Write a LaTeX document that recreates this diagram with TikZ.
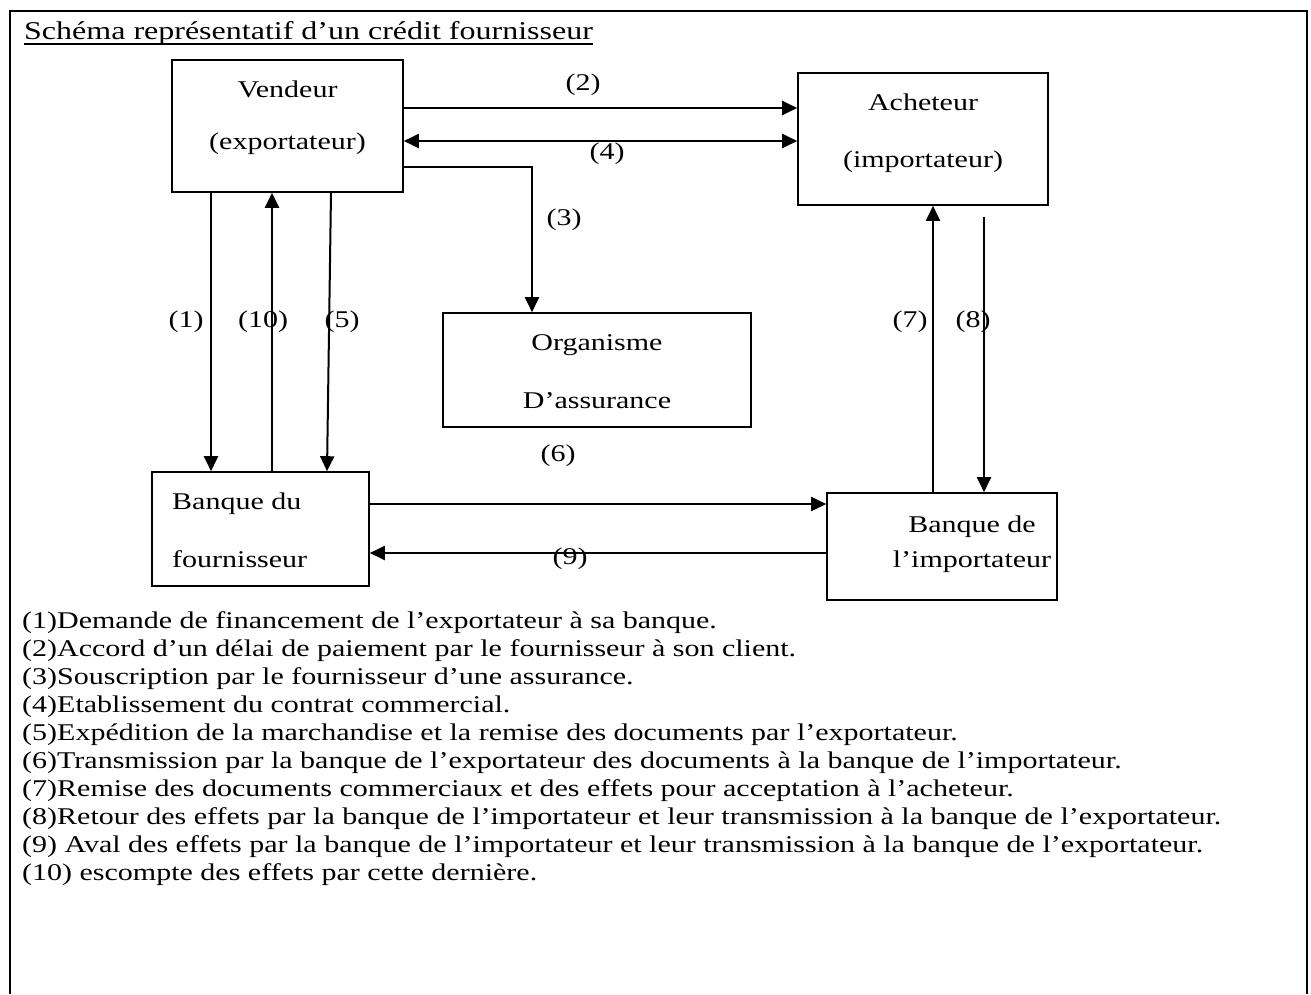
\documentclass[tikz,border=0pt]{standalone}
\usepackage{fontspec}
\setmainfont{Liberation Serif}[FakeStretch=1.25]
\usetikzlibrary{arrows.meta}
\begin{document}
\begin{tikzpicture}[x=1pt,y=-1pt,
  every node/.style={font=\fontsize{24}{28}\selectfont},
  txt/.style={inner sep=0pt},
  lbl/.style={inner sep=0pt, anchor=center},
  box/.style={draw, line width=1.6pt, inner sep=0pt},
  arr/.style={line width=2pt, -{Triangle[length=15pt,width=14pt]}},
  darr/.style={line width=2pt, {Triangle[length=15pt,width=14pt]}-{Triangle[length=15pt,width=14pt]}},
  frame/.style={line width=2.6pt}]
\useasboundingbox (0,0) rectangle (1311,994);

% outer frame, open at the bottom
\draw[frame] (10,994) -- (10,11) -- (1307,11) -- (1307,994);

% title
\node[txt, anchor=base west, font=\fontsize{25.6}{28}\selectfont] (title) at (24,39) {Schéma représentatif d’un crédit fournisseur};
\draw[line width=1.3pt] ([yshift=-5pt]title.base west) -- ([yshift=-5pt]title.base east);

% boxes
\node[box, minimum width=231pt, minimum height=132pt] (V)  at (287.5,126) {};
\node[box, minimum width=250pt, minimum height=132pt] (A)  at (923,139) {};
\node[box, minimum width=308pt, minimum height=114pt] (O)  at (597,370) {};
\node[box, minimum width=217pt, minimum height=114pt] (BF) at (260.5,529) {};
\node[box, minimum width=230pt, minimum height=107pt] (BI) at (942,546.5) {};

% box texts
\node[txt, anchor=base] (v1) at (287.5,97) {Vendeur};
\node[txt, anchor=base] (v2) at (287.5,149) {(exportateur)};
\node[txt, anchor=base] (a1) at (923,110) {Acheteur};
\node[txt, anchor=base] (a2) at (923,167) {(importateur)};
\node[txt, anchor=base] (o1) at (597,350) {Organisme};
\node[txt, anchor=base] (o2) at (597,408) {D’assurance};
\node[txt, anchor=base west] (b1) at (172,509) {Banque du};
\node[txt, anchor=base west] (b2) at (172,567) {fournisseur};
\node[txt, anchor=base] (c1) at (972,532) {Banque de};
\node[txt, anchor=base] (c2) at (972,567) {l’importateur};

% connectors
\draw[arr]  ([yshift=18pt]V.east) -- ([yshift=18pt]V.east -| A.west);
\draw[darr] ([yshift=-15pt]V.east) -- ([yshift=-15pt]V.east -| A.west);
\draw[arr]  ([yshift=-41pt]V.east) -| ([xshift=-65pt]O.north);
\draw[arr]  ([xshift=-76.5pt]V.south) coordinate (p1) -- (p1 |- BF.north);
\draw[arr]  ([xshift=11.5pt]BF.north) coordinate (p10) -- (p10 |- V.south);
\draw[arr]  ([xshift=43.5pt]V.south) -- ([xshift=66.5pt]BF.north);
\draw[arr]  ([xshift=-9pt]BI.north) coordinate (p7) -- (p7 |- A.south);
\draw[arr]  ([xshift=61pt,yshift=-11pt]A.south) coordinate (p8) -- (p8 |- BI.north);
\draw[arr]  ([yshift=25pt]BF.east) -- ([yshift=25pt]BF.east -| BI.west);
\draw[arr]  ([yshift=-24pt]BF.east -| BI.west) -- ([yshift=-24pt]BF.east);

% connector numbers
\node[lbl] (n2)  at (583,85)  {(2)};
\node[lbl] (n4)  at (607,154) {(4)};
\node[lbl] (n3)  at (564,220) {(3)};
\node[lbl] (n1)  at (186,322) {(1)};
\node[lbl] (n10) at (263,322) {(10)};
\node[lbl] (n5)  at (342,322) {(5)};
\node[lbl] (n7)  at (910,322) {(7)};
\node[lbl] (n8)  at (973,322) {(8)};
\node[lbl] (n6)  at (558,456) {(6)};
\node[lbl] (n9)  at (570,559) {(9)};

% legend
\node[txt, anchor=base west] (l1)  at (22,628) {(1)Demande de financement de l’exportateur à sa banque.};
\node[txt, anchor=base west] (l2)  at (22,656) {(2)Accord d’un délai de paiement par le fournisseur à son client.};
\node[txt, anchor=base west] (l3)  at (22,684) {(3)Souscription par le fournisseur d’une assurance.};
\node[txt, anchor=base west] (l4)  at (22,712) {(4)Etablissement du contrat commercial.};
\node[txt, anchor=base west] (l5)  at (22,740) {(5)Expédition de la marchandise et la remise des documents par l’exportateur.};
\node[txt, anchor=base west] (l6)  at (22,768) {(6)Transmission par la banque de l’exportateur des documents à la banque de l’importateur.};
\node[txt, anchor=base west] (l7)  at (22,796) {(7)Remise des documents commerciaux et des effets pour acceptation à l’acheteur.};
\node[txt, anchor=base west] (l8)  at (22,824) {(8)Retour des effets par la banque de l’importateur et leur transmission à la banque de l'exportateur.};
\node[txt, anchor=base west] (l9)  at (22,852) {(9) Aval des effets par la banque de l’importateur et leur transmission à la banque de l’exportateur.};
\node[txt, anchor=base west] (l10) at (22,880) {(10) escompte des effets par cette dernière.};
\end{tikzpicture}
\end{document}
